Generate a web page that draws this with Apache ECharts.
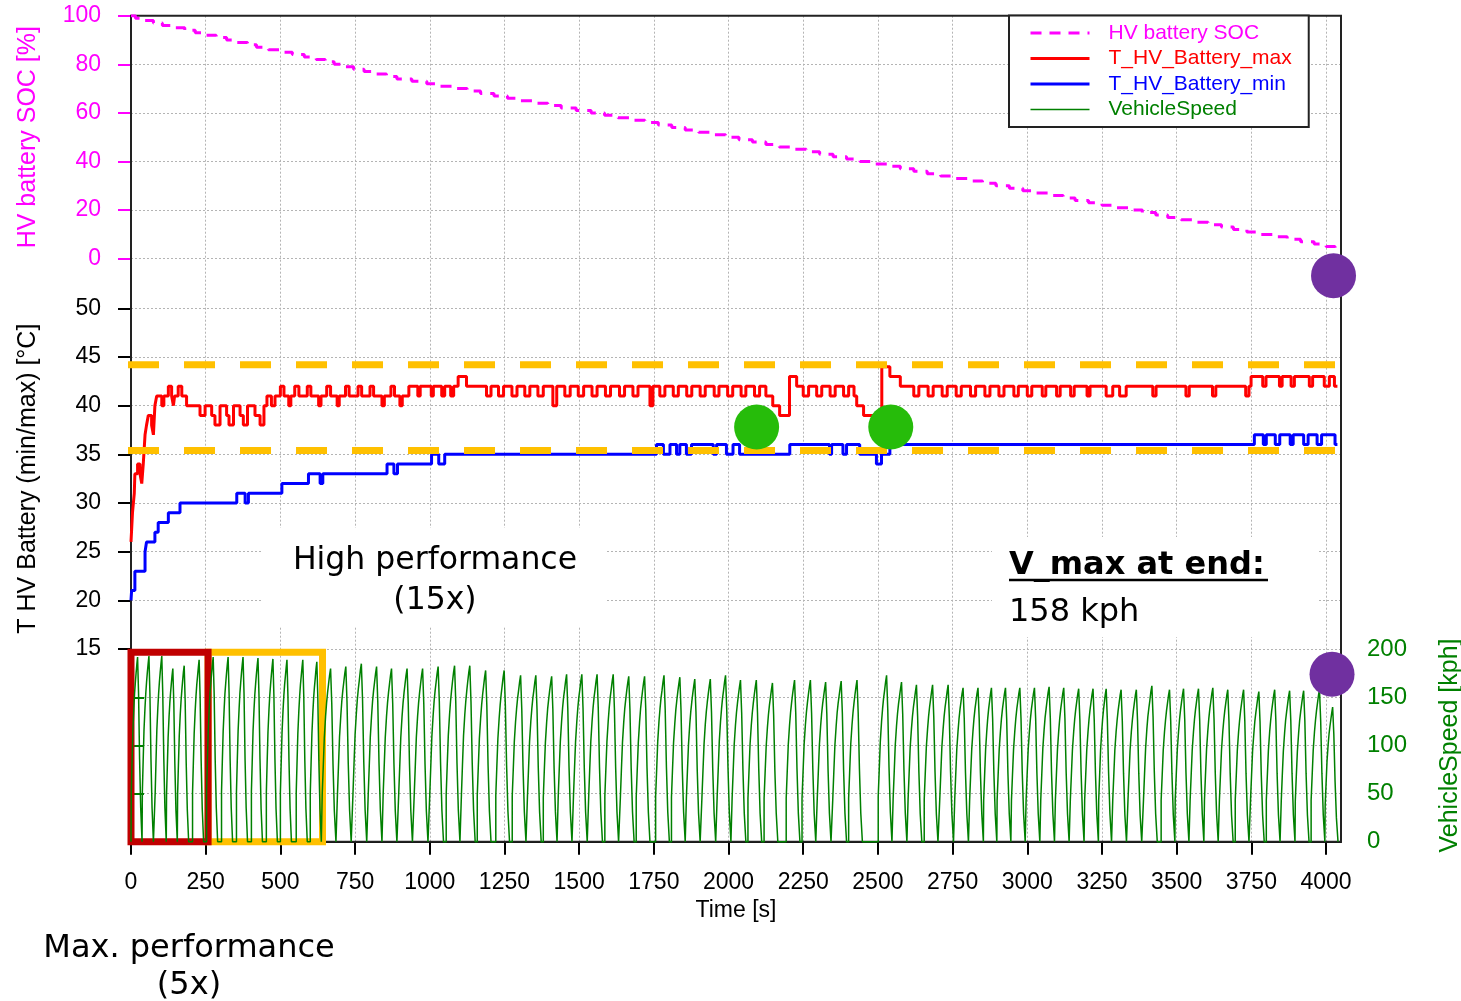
<!DOCTYPE html>
<html>
<head>
<meta charset="utf-8">
<script src="https://cdn.jsdelivr.net/npm/echarts@6/dist/echarts.min.js"></script>
<style>
html,body{margin:0;padding:0;background:#fff;}
#chart{width:1461px;height:1001px;}
</style>
</head>
<body>
<div id="chart"></div>
<script>
// ---------------- DATA ----------------
const xTicks = [0,250,500,750,1000,1250,1500,1750,2000,2250,2500,2750,3000,3250,3500,3750,4000];

// HV battery SOC [%] : step change points [time s, value]
const socSteps = [[0,100],[15,99],[40,98],[75,97],[105,96],[140,95],[180,94],[215,93],[250,92],[285,91],[320,90],[355,89],[390,88],[420,87],[460,86],[500,85],[540,84],[580,83],[620,82],[650,81],[680,80],[710,79],[745,78],[780,77],[820,76],[855,75],[890,74],[940,73],[990,72],[1035,71],[1080,70],[1125,69],[1170,68],[1215,67],[1260,66],[1305,65],[1350,64],[1395,63],[1440,62],[1490,61],[1540,60],[1585,59],[1630,58],[1675,57],[1720,56],[1765,55],[1810,54],[1855,53],[1900,52],[1945,51],[1990,50],[2035,49],[2080,48],[2125,47],[2170,46],[2215,45],[2260,44],[2305,43],[2350,42],[2395,41],[2440,40],[2485,39],[2530,38],[2575,37],[2620,36],[2665,35],[2710,34],[2755,33],[2800,32],[2850,31],[2895,30],[2940,29],[2985,28],[3030,27],[3075,26],[3120,25],[3160,24],[3205,23],[3250,22],[3295,21],[3340,20],[3385,19],[3430,18],[3470,17],[3515,16],[3560,15],[3605,14],[3650,13],[3690,12],[3735,11],[3780,10],[3825,9],[3870,8],[3915,7],[3960,6],[4000,5],[4030,4],[4042,4]];

// T_HV_Battery_max [°C] : step change points
const tMaxSteps = [[0,26],[5,29],[11,31],[13,33],[22,34],[30,33],[36,32],[41,34],[47,37],[52,38],[58,39],[69,38],[75,37],[80,40],[86,41],[103,40],[110,41],[125,42],[136,41],[142,40],[146,41],[158,42],[170,41],[186,40],[231,39],[248,40],[270,39],[281,38],[298,40],[320,39],[328,38],[343,40],[365,39],[376,38],[390,40],[415,39],[432,38],[445,40],[455,41],[470,40],[482,41],[500,42],[512,41],[528,40],[535,41],[548,42],[562,41],[590,42],[602,41],[628,40],[636,41],[655,42],[668,41],[690,40],[697,41],[718,42],[730,41],[760,42],[772,41],[800,42],[812,41],[840,40],[848,41],[870,42],[882,41],[900,40],[908,41],[930,42],[960,41],[968,42],[1005,41],[1012,42],[1040,41],[1050,42],[1070,41],[1080,42],[1095,43],[1123,42],[1190,41],[1205,42],[1230,41],[1247,42],[1275,41],[1292,42],[1318,41],[1335,42],[1362,41],[1380,42],[1412,40],[1425,42],[1452,41],[1470,42],[1497,41],[1515,42],[1543,41],[1560,42],[1588,41],[1605,42],[1635,41],[1652,42],[1680,41],[1697,42],[1737,40],[1747,42],[1770,41],[1787,42],[1815,41],[1832,42],[1860,41],[1877,42],[1905,41],[1922,42],[1952,41],[1968,42],[1997,41],[2014,42],[2042,41],[2058,42],[2087,41],[2104,42],[2125,41],[2148,40],[2171,39],[2204,43],[2228,42],[2250,41],[2268,42],[2295,41],[2312,42],[2340,41],[2357,42],[2385,41],[2402,42],[2420,41],[2429,40],[2452,39],[2513,44],[2540,43],[2575,42],[2620,41],[2637,42],[2668,41],[2685,42],[2715,41],[2732,42],[2762,41],[2779,42],[2810,41],[2827,42],[2858,41],[2875,42],[2905,41],[2922,42],[2955,41],[2970,42],[3000,41],[3015,42],[3050,41],[3062,42],[3098,41],[3110,42],[3145,41],[3157,42],[3200,41],[3210,42],[3264,41],[3286,42],[3309,41],[3331,42],[3420,41],[3431,42],[3531,41],[3542,42],[3620,41],[3631,42],[3731,41],[3742,42],[3749,43],[3788,42],[3799,43],[3844,42],[3853,43],[3883,42],[3894,43],[3944,42],[3955,43],[3994,42],[4011,43],[4028,42],[4038,42]];

// T_HV_Battery_min [°C] : step change points
const tMinSteps = [[0,20],[2,21],[13,23],[47,25],[52,26],[80,27],[91,28],[125,29],[164,30],[354,31],[382,30],[393,31],[505,32],[594,33],[633,32],[642,33],[857,34],[880,33],[892,34],[1006,35],[1030,34],[1050,35],[1759,36],[1782,35],[1804,36],[1826,35],[1837,36],[1859,35],[1876,36],[1949,35],[1960,36],[1993,35],[2015,36],[2037,35],[2205,36],[2338,35],[2345,36],[2383,35],[2395,36],[2439,35],[2495,34],[2512,35],[2540,36],[3760,37],[3790,36],[3800,37],[3830,36],[3845,37],[3880,36],[3890,37],[3925,36],[3940,37],[3970,36],[3985,37],[4030,36],[4038,36]];

// VehicleSpeed [kph] : per lap peak time and peak speed
const lapPeakTime = [22,60,103,140,178,228,275,325,375,425,475,522,575,622,668,719,771,822,872,924,976,1028,1083,1134,1187,1249,1304,1355,1408,1458,1509,1560,1614,1666,1719,1784,1837,1887,1939,1990,2040,2093,2147,2221,2274,2325,2377,2430,2529,2579,2629,2683,2735,2785,2835,2880,2927,2975,3024,3073,3122,3172,3220,3264,3314,3365,3417,3476,3523,3573,3621,3671,3724,3775,3828,3878,3925,3978,4022];
const lapPeakSpeed = [192,193,193,180,183,189,192,192,192,191,190,189,189,187,180,182,185,182,180,180,180,182,183,183,178,178,173,173,172,174,174,174,174,172,172,173,171,169,169,173,168,168,165,168,168,166,167,168,173,166,163,163,163,160,160,160,160,160,160,161,160,159,159,159,158,158,162,158,159,159,160,158,158,156,158,157,157,158,140];
// gear-step profile of one lap (fraction of rise/fall time, fraction of peak)
const riseShapeT = [0,0.12,0.25,0.4,0.52,0.64,0.76,0.88,1];
const riseShapeV = [0.27,0.43,0.6,0.72,0.8,0.86,0.91,0.96,1];
const fallShapeT = [0.22,0.45,0.7,1];
const fallShapeV = [0.8,0.45,0.18,0];

const limitUpper = 44.2;
const limitLower = 35.4;
const greenMarks = [[2094,37.8],[2543,37.8]];
const purpleSocMark = [[4025,-7]];
const purpleSpeedMark = [[4020,174]];
const maxPerfBox = [0,258];
const highPerfBox = [258,641];
const boxSpeedTop = 197;

// ---------------- LAYOUT ----------------
const L = 131, W = 1210;
const g0 = {top:15.7, height:243};
const g1 = {top:308.3, height:340.7};
const g2 = {top:649.3, height:192.4};
const X_MAX = 4050;

function buildSpeed(){
  const pts = [[0,0]];
  let prevEnd = 0;
  for (let i=0;i<lapPeakTime.length;i++){
    const tp = lapPeakTime[i], vp = lapPeakSpeed[i];
    const maxPerf = tp < highPerfBox[1];
    const R = maxPerf ? 22 : 28, F = maxPerf ? 15 : 18;
    const start = Math.max(prevEnd + 1, tp - R);
    const r = tp - start;
    for (let k=0;k<riseShapeT.length;k++) pts.push([start + riseShapeT[k]*r, Math.round(riseShapeV[k]*vp)]);
    for (let k=0;k<fallShapeT.length;k++) pts.push([tp + fallShapeT[k]*F, Math.round(fallShapeV[k]*vp)]);
    prevEnd = tp + F;
  }
  return pts;
}

const gridLine = {show:true, lineStyle:{color:'#b4b4b4', type:[2,2], width:1}};
const FONT = 'Liberation Sans';
const plain = v => String(v);

const chart = echarts.init(document.getElementById('chart'), null, {renderer:'canvas'});
const option = {
  animation:false,
  backgroundColor:'#fff',
  textStyle:{fontFamily:FONT},
  grid:[
    {left:L, width:W, top:g0.top, height:g0.height, outerBoundsMode:'none', containLabel:false},
    {left:L, width:W, top:g1.top, height:g1.height, outerBoundsMode:'none', containLabel:false},
    {left:L, width:W, top:g2.top, height:g2.height, outerBoundsMode:'none', containLabel:false},
    {left:L, width:W, top:g0.top, height:g2.top+g2.height-g0.top, outerBoundsMode:'none', containLabel:false}
  ],
  legend:{
    data:[
      {name:'HV battery SOC', textStyle:{color:'#FF00FF'}},
      {name:'T_HV_Battery_max', textStyle:{color:'#FF0000'}},
      {name:'T_HV_Battery_min', textStyle:{color:'#0000FF'}},
      {name:'VehicleSpeed', textStyle:{color:'#008000'}}
    ],
    orient:'vertical', left:1009, top:15.5,
    itemWidth:59, itemHeight:14, itemGap:4.5,
    padding:[7,17,7,20],
    borderColor:'#222', borderWidth:2, backgroundColor:'#fff',
    selectedMode:false,
    itemStyle:{color:'rgba(0,0,0,0)', borderWidth:0, opacity:0},
    lineStyle:{width:'inherit'},
    textStyle:{fontSize:21, fontFamily:FONT, lineHeight:20.5, padding:[0,0,0,14]}
  },
  xAxis:[
    {gridIndex:0, type:'value', min:0, max:X_MAX, show:false},
    {gridIndex:1, type:'value', min:0, max:X_MAX, show:false},
    {gridIndex:2, type:'value', min:0, max:X_MAX, interval:250, offset:7,
      name:'Time [s]', nameLocation:'middle', nameGap:50,
      nameTextStyle:{fontSize:23, color:'#000', fontFamily:FONT},
      axisLine:{show:true, lineStyle:{color:'#000', width:2}},
      axisTick:{show:true, length:13, lineStyle:{color:'#000', width:2}, customValues:xTicks},
      axisLabel:{fontSize:23, color:'#000', margin:22, fontFamily:FONT, customValues:xTicks, formatter:plain},
      splitLine:{show:false}},
    {gridIndex:3, type:'value', min:0, max:X_MAX, interval:250,
      axisLine:{show:false}, axisTick:{show:false}, axisLabel:{show:false},
      splitLine:gridLine}
  ],
  yAxis:[
    {gridIndex:0, type:'value', min:0, max:100, interval:20, position:'left', offset:6,
      name:'HV battery SOC [%]', nameLocation:'middle', nameGap:84, nameRotate:90,
      nameTextStyle:{fontSize:25, color:'#FF00FF', fontFamily:FONT},
      axisLine:{show:true, lineStyle:{color:'#FF00FF', width:2}},
      axisTick:{show:true, length:13, lineStyle:{color:'#FF00FF', width:2}},
      axisLabel:{fontSize:23, color:'#FF00FF', margin:24, fontFamily:FONT, formatter:plain},
      splitLine:gridLine},
    {gridIndex:1, type:'value', min:15, max:50, interval:5, position:'left', offset:6,
      name:'T HV Battery (min/max) [°C]', nameLocation:'middle', nameGap:84, nameRotate:90,
      nameTextStyle:{fontSize:25, color:'#000', fontFamily:FONT},
      axisLine:{show:true, lineStyle:{color:'#000', width:2}},
      axisTick:{show:true, length:13, lineStyle:{color:'#000', width:2}},
      axisLabel:{fontSize:23, color:'#000', margin:24, fontFamily:FONT, formatter:plain},
      splitLine:gridLine},
    {gridIndex:2, type:'value', min:0, max:200, interval:50, position:'right', offset:7,
      name:'VehicleSpeed [kph]', nameLocation:'middle', nameGap:90, nameRotate:90,
      nameTextStyle:{fontSize:25, color:'#008000', fontFamily:FONT},
      axisLine:{show:true, lineStyle:{color:'#008000', width:2}},
      axisTick:{show:true, length:13, lineStyle:{color:'#008000', width:2}},
      axisLabel:{fontSize:24, color:'#008000', margin:19, fontFamily:FONT, formatter:plain},
      splitLine:gridLine},
    {gridIndex:3, type:'value', min:0, max:1, show:false}
  ],
  series:[
    {name:'VehicleSpeed', type:'line', xAxisIndex:2, yAxisIndex:2, step:'end',
      data:buildSpeed(), symbol:'none', lineStyle:{color:'#008000', width:1.5}, itemStyle:{color:'#008000'}, z:2, clip:false},
    {name:'HV battery SOC', type:'line', xAxisIndex:0, yAxisIndex:0, step:'end',
      data:socSteps, symbol:'none', lineStyle:{color:'#FF00FF', width:3, type:[11,8]}, itemStyle:{color:'#FF00FF'}, z:3},
    {name:'T_HV_Battery_max', type:'line', xAxisIndex:1, yAxisIndex:1, step:'end',
      data:tMaxSteps, symbol:'none', lineStyle:{color:'#FF0000', width:3}, itemStyle:{color:'#FF0000'}, z:3},
    {name:'T_HV_Battery_min', type:'line', xAxisIndex:1, yAxisIndex:1, step:'end',
      data:tMinSteps, symbol:'none', lineStyle:{color:'#0000FF', width:3}, itemStyle:{color:'#0000FF'}, z:3},
    {name:'limitUpper', type:'line', xAxisIndex:1, yAxisIndex:1, clip:false,
      data:[[-10,limitUpper],[4040,limitUpper]], symbol:'none', lineStyle:{color:'#FFC000', width:7, type:[31,25]}, z:4},
    {name:'limitLower', type:'line', xAxisIndex:1, yAxisIndex:1, clip:false,
      data:[[-10,limitLower],[4040,limitLower]], symbol:'none', lineStyle:{color:'#FFC000', width:7, type:[31,25]}, z:4},
    {name:'perfBoxes', type:'line', xAxisIndex:2, yAxisIndex:2, data:[], z:6, clip:false,
      markArea:{silent:true, label:{show:false},
        data:[
          [{coord:[highPerfBox[0],0], itemStyle:{color:'rgba(0,0,0,0)', borderColor:'#FFC000', borderWidth:7}}, {coord:[highPerfBox[1],boxSpeedTop]}],
          [{coord:[maxPerfBox[0],0], itemStyle:{color:'rgba(0,0,0,0)', borderColor:'#C00000', borderWidth:7}}, {coord:[maxPerfBox[1],boxSpeedTop]}]
        ]}},
    {name:'greenMarks', type:'scatter', xAxisIndex:1, yAxisIndex:1, data:greenMarks, symbolSize:45, itemStyle:{color:'#26BC0A', opacity:1}, z:7, clip:false},
    {name:'purpleSoc', type:'scatter', xAxisIndex:0, yAxisIndex:0, data:purpleSocMark, symbolSize:45, itemStyle:{color:'#7030A0', opacity:1}, z:7, clip:false},
    {name:'purpleSpeed', type:'scatter', xAxisIndex:2, yAxisIndex:2, data:purpleSpeedMark, symbolSize:45, itemStyle:{color:'#7030A0', opacity:1}, z:7, clip:false}
  ],
  graphic:[
    {type:'rect', z:1, silent:true, shape:{x:L, y:g0.top, width:W, height:g2.top+g2.height-g0.top}, style:{fill:'none', stroke:'#222', lineWidth:2}},
    {type:'rect', z:1, silent:true, shape:{x:263, y:528, width:342, height:98}, style:{fill:'#fff'}},
    {type:'text', z:1, silent:true, x:435, y:541, style:{text:'High performance\n(15x)', align:'center', verticalAlign:'top', fontSize:31.5, lineHeight:40, fontFamily:'DejaVu Sans', fill:'#000'}},
    {type:'rect', z:1, silent:true, shape:{x:992, y:537, width:326, height:100}, style:{fill:'#fff'}},
    {type:'text', z:1, silent:true, x:1009, y:566, style:{text:'V_max at end:', align:'left', verticalAlign:'middle', fontSize:32, fontWeight:'bold', fontFamily:'DejaVu Sans', fill:'#000'}},
    {type:'line', z:1, silent:true, shape:{x1:1009, y1:580, x2:1268, y2:580}, style:{stroke:'#000', lineWidth:2.5}},
    {type:'text', z:1, silent:true, x:1009, y:613, style:{text:'158 kph', align:'left', verticalAlign:'middle', fontSize:32, fontFamily:'DejaVu Sans', fill:'#000'}},
    {type:'text', z:1, silent:true, x:189, y:930.5, style:{text:'Max. performance\n(5x)', align:'center', verticalAlign:'top', fontSize:32, lineHeight:37, fontFamily:'DejaVu Sans', fill:'#000'}}
  ]
};
chart.setOption(option);
</script>
</body>
</html>
